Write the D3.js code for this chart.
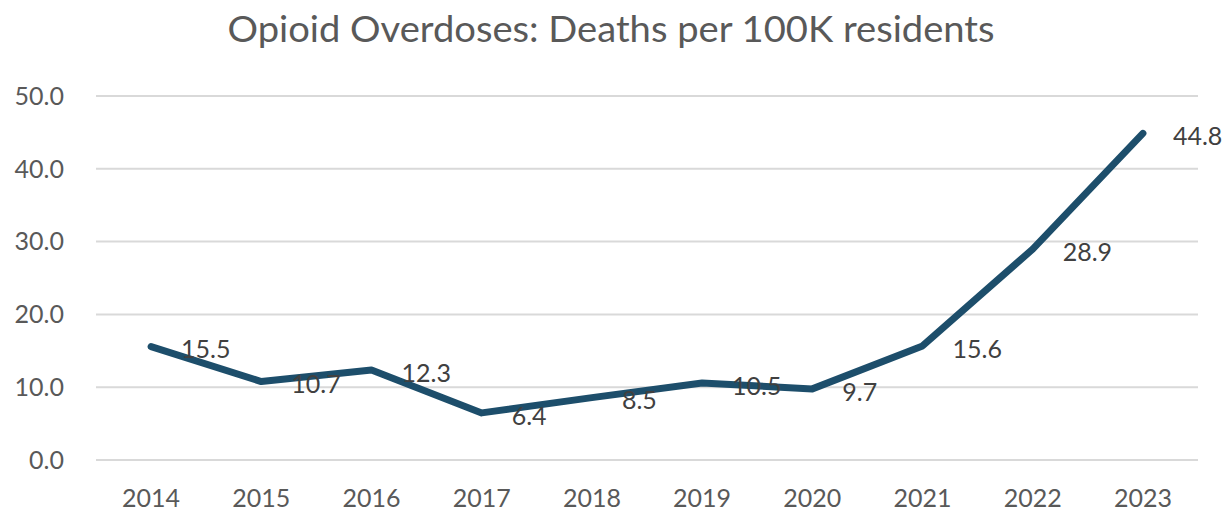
<!DOCTYPE html>
<html><head><meta charset="utf-8">
<script src="https://cdn.jsdelivr.net/npm/d3@7"></script>
<style>body{margin:0;background:#fff}svg{display:block}</style>
</head><body>
<script>
const years = ["2014","2015","2016","2017","2018","2019","2020","2021","2022","2023"];
const deaths = [15.5,10.7,12.3,6.4,8.5,10.5,9.7,15.6,28.9,44.8];
const yTicks = [0,10,20,30,40,50];
const title = "Opioid Overdoses: Deaths per 100K residents";

const W=1228,H=514, font="Lato, 'Open Sans', sans-serif";
const svg=d3.select("body").append("svg").attr("width",W).attr("height",H);
const x=d3.scaleBand().domain(years).range([96,1198]);
const y=d3.scaleLinear().domain([0,50]).range([459.5,95.5]);

svg.append("text").attr("x",611).attr("y",42).attr("text-anchor","middle")
  .attr("font-family",font).attr("font-size",36).attr("fill","#595959")
  .attr("textLength",767).attr("lengthAdjust","spacingAndGlyphs").text(title);

const ya=svg.append("g").attr("transform","translate(96,0)")
  .call(d3.axisLeft(y).tickValues(yTicks).tickSize(-(1198-96)).tickPadding(32).tickFormat(d3.format(".1f")));
ya.select(".domain").remove();
ya.selectAll("line").attr("stroke","#d9d9d9").attr("stroke-width",2);
ya.selectAll("text").attr("font-family",font).attr("font-size",25).attr("fill","#595959").attr("dy","0.35em");

const xa=svg.append("g").attr("transform","translate(0,459.5)")
  .call(d3.axisBottom(x).tickSize(0).tickPadding(30));
xa.select(".domain").remove();
xa.selectAll("text").attr("font-family",font).attr("font-size",25).attr("fill","#595959");

const line=d3.line().x((d,i)=>x(years[i])+x.bandwidth()/2).y(d=>y(d));
svg.append("path").datum(deaths).attr("d",line).attr("fill","none")
  .attr("stroke","#1d4e6b").attr("stroke-width",7).attr("stroke-linejoin","round").attr("stroke-linecap","round");

svg.append("g").selectAll("text").data(deaths).join("text")
  .attr("x",(d,i)=>x(years[i])+x.bandwidth()/2+30)
  .attr("y",d=>y(d)+3).attr("dy","0.35em")
  .attr("font-family",font).attr("font-size",25).attr("fill","#404040")
  .text(d=>d.toFixed(1));
</script>
</body></html>
